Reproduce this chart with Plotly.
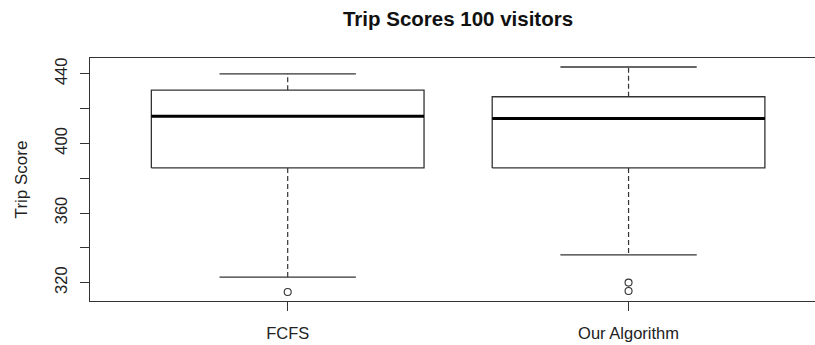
import plotly.graph_objects as go

# Summary statistics of trip scores for 100 visitors, per method
categories = ["FCFS", "Our Algorithm"]
q1 = [385.9, 385.9]
median = [415.6, 414.3]
q3 = [430.6, 426.8]
lower_whisker = [323.2, 335.9]
upper_whisker = [440.0, 443.9]
outliers = [[314.6], [320.0, 315.2]]

y_tick_values = [320, 340, 360, 380, 400, 420, 440]
y_tick_labels = ["320", "", "360", "", "400", "", "440"]

LINE = "#333333"
FONT = "Liberation Sans, Arial, sans-serif"
half_box = 0.4
half_cap = 0.2

fig = go.Figure()

for i, name in enumerate(categories):
    x = i + 1
    # whisker stems (dashed)
    fig.add_trace(go.Scatter(
        x=[x, x, None, x, x],
        y=[q3[i], upper_whisker[i], None, q1[i], lower_whisker[i]],
        mode="lines", line=dict(color=LINE, width=1.2, dash="5px,3px"),
        hoverinfo="skip"))
    # whisker caps
    fig.add_trace(go.Scatter(
        x=[x - half_cap, x + half_cap, None, x - half_cap, x + half_cap],
        y=[upper_whisker[i], upper_whisker[i], None, lower_whisker[i], lower_whisker[i]],
        mode="lines", line=dict(color=LINE, width=1.3),
        hoverinfo="skip"))
    # box from Q1 to Q3
    fig.add_trace(go.Scatter(
        x=[x - half_box, x + half_box, x + half_box, x - half_box, x - half_box],
        y=[q1[i], q1[i], q3[i], q3[i], q1[i]],
        mode="lines", fill="toself", fillcolor="white",
        line=dict(color=LINE, width=1.3),
        hoverinfo="skip"))
    # median
    fig.add_trace(go.Scatter(
        x=[x - half_box, x + half_box],
        y=[median[i], median[i]],
        mode="lines", line=dict(color="black", width=3.2),
        hoverinfo="skip"))
    # outliers
    fig.add_trace(go.Scatter(
        x=[x] * len(outliers[i]), y=outliers[i],
        mode="markers",
        marker=dict(symbol="circle-open", size=7, color=LINE, line=dict(width=1.1)),
        hoverinfo="skip"))

all_vals = lower_whisker + upper_whisker + [v for o in outliers for v in o]
lo, hi = min(all_vals), max(all_vals)
pad = 0.04 * (hi - lo)

fig.update_layout(
    width=815, height=345,
    margin=dict(l=90, r=0, t=58, b=44),
    paper_bgcolor="white", plot_bgcolor="white",
    showlegend=False,
    font=dict(family=FONT, size=16.5, color="#222222"),
    title=dict(text="<b>Trip Scores 100 visitors</b>", x=0.562, xref="container",
               xanchor="center", y=0.945, yref="container", yanchor="middle",
               font=dict(family=FONT, size=20.5, color="#111111")),
    xaxis=dict(
        range=[0.42, 2.547], tickvals=[1, 2], ticktext=categories,
        showgrid=False, zeroline=False, showline=True, mirror=True,
        linecolor=LINE, linewidth=1.3, ticks="outside", ticklen=9,
        tickcolor=LINE, tickwidth=1.2, ticklabelstandoff=8),
    yaxis=dict(
        range=[lo - pad, hi + pad], tickvals=y_tick_values, ticktext=y_tick_labels,
        tickangle=-90, showgrid=False, zeroline=False, showline=True,
        linecolor=LINE, linewidth=1.3, ticks="outside", ticklen=9,
        tickcolor=LINE, tickwidth=1.2, ticklabelstandoff=6,
        title=dict(text="Trip Score", standoff=20, font=dict(size=17))),
)

fig.write_html("out.html")
